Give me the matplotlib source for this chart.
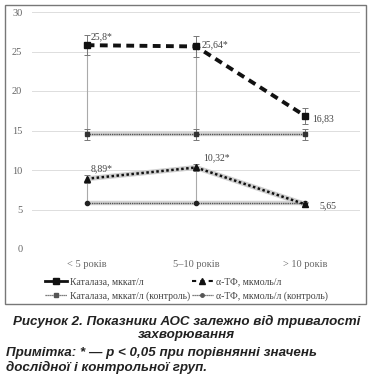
import matplotlib
matplotlib.use("Agg")
import matplotlib.pyplot as plt
from matplotlib.lines import Line2D
from matplotlib.patches import Rectangle

categories = ["< 5 років", "5\u201310 років", "> 10 років"]
catalase = [25.8, 25.64, 16.83]
catalase_err = [1.3, 1.3, 1.0]
catalase_ctrl = [14.5, 14.5, 14.5]
catalase_ctrl_err = [0.7, 0.7, 0.7]
atf = [8.89, 10.32, 5.65]
atf_err = [0.5, 0.5, 0.3]
atf_ctrl = [5.8, 5.8, 5.8]
labels_catalase = ["25,8*", "25,64*", "16,83"]
labels_atf = ["8,89*", "10,32*", "5,65"]
yticks = [0, 5, 10, 15, 20, 25, 30]

W, H = 373, 384
fig = plt.figure(figsize=(W / 100, H / 100), dpi=100)
ax = fig.add_axes([32 / W, 1 - 249 / H, 328 / W, 237 / H])

x = list(range(len(categories)))
serif = "Liberation Serif"
gray = "#666666"

# connector lines (grey verticals)
for i in x[:2]:
    ax.plot([i, i], [catalase_ctrl[i], catalase[i]], color="#aaaaaa", lw=0.8, zorder=1)
    ax.plot([i, i], [atf_ctrl[i], atf[i]], color="#aaaaaa", lw=0.8, zorder=1)

# soft shadows under the lines
ax.plot(x, catalase_ctrl, color="#d4d4d4", lw=3.2, zorder=2, solid_capstyle="butt")
ax.plot(x, atf_ctrl, color="#d4d4d4", lw=3.2, zorder=2, solid_capstyle="butt")
ax.plot(x, atf, color="#cfcfcf", lw=3.6, zorder=2, solid_capstyle="butt")

ax.errorbar(x, catalase_ctrl, yerr=catalase_ctrl_err, color="#555555", ls=(0, (1, 0.6)),
            lw=1.0, marker="s", ms=3.5, mfc="#333333", mec="#333333",
            ecolor="#777777", elinewidth=0.7, capsize=2.5, capthick=0.7, zorder=3)
ax.plot(x, atf_ctrl, color="#555555", ls=(0, (1, 0.6)), lw=1.0, marker="o", ms=3,
        mfc="#222222", mec="#222222", zorder=3)
ax.errorbar(x, atf, yerr=atf_err, color="#111111", ls=(0, (1, 1)), lw=1.8,
            marker="^", ms=4, mfc="#111111", mec="#111111",
            ecolor="#777777", elinewidth=0.7, capsize=2.5, capthick=0.7, zorder=4)
ax.errorbar(x, catalase, yerr=catalase_err, color="#111111", ls=(0, (2, 1.4)), lw=2.8,
            marker="s", ms=5, mfc="#111111", mec="#111111",
            ecolor="#777777", elinewidth=0.7, capsize=2.5, capthick=0.7, zorder=5)

# data labels
offs_c = [(3, 3), (4, 1), (5, -2)]
for i, (v, t) in enumerate(zip(catalase, labels_catalase)):
    ax.annotate(t, (i, v), xytext=offs_c[i], textcoords="offset points",
                fontsize=7, family=serif, color="#444444", va="bottom" if i == 0 else "center")
offs_a = [(3, 4), (5, 4), (10, -1)]
for i, (v, t) in enumerate(zip(atf, labels_atf)):
    ax.annotate(t, (i, v), xytext=offs_a[i], textcoords="offset points",
                fontsize=7, family=serif, color="#444444", va="bottom" if i < 2 else "center")

ax.set_xlim(-0.5, 2.5)
ax.set_ylim(0, 30)
ax.set_yticks(yticks)
ax.set_yticklabels([str(t) for t in yticks], family=serif, fontsize=7.5, color=gray)
ax.set_xticks(x)
ax.set_xticklabels(categories, family=serif, fontsize=7.5, color=gray)
ax.tick_params(length=0, pad=7)
ax.tick_params(axis="x", pad=8)
ax.grid(axis="y", color="#dddddd", lw=0.7)
ax.set_axisbelow(True)
for s in ax.spines.values():
    s.set_visible(False)

# outer box
fig.patches.append(Rectangle((5 / W, 1 - 304 / H), 361 / W, 299 / H, transform=fig.transFigure,
                             fill=False, ec="#777777", lw=1.0))

h_cat = Line2D([], [], color="#111111", ls="-", lw=2, marker="s", ms=4)
h_atf = Line2D([], [], color="#111111", ls=(0, (2, 2)), lw=1.5, marker="^", ms=4)
h_catc = Line2D([], [], color="#555555", ls=(0, (1, 0.6)), lw=0.9, marker="s", ms=3)
h_atfc = Line2D([], [], color="#555555", ls=(0, (1, 0.6)), lw=0.9, marker="o", ms=2.5)
# column-major order for a 2-column legend
handles = [h_cat, h_catc, h_atf, h_atfc]
leg_labels = ["Каталаза, мккат/л", "Каталаза, мккат/л (контроль)",
              "α-ТФ, мкмоль/л", "α-ТФ, мкмоль/л (контроль)"]
leg = fig.legend(handles, leg_labels, loc="center", bbox_to_anchor=(0.5, 1 - 289 / H),
                 ncol=2, frameon=False, handlelength=2.2, handletextpad=0.3,
                 columnspacing=0.2, labelspacing=0.55, prop={"family": serif, "size": 7})
for t in leg.get_texts():
    t.set_color("#444444")

cap = dict(family="Liberation Sans", fontweight="bold", style="italic", fontsize=9.6, color="#222222")
fig.text(0.5, 1 - 321 / H, "Рисунок 2. Показники АОС залежно від тривалості", ha="center", va="center", **cap)
fig.text(0.5, 1 - 335 / H, "захворювання", ha="center", va="center", **cap)
fig.text(6 / W, 1 - 353 / H, "Примітка: * — p < 0,05 при порівнянні значень", ha="left", va="center", **cap)
fig.text(6 / W, 1 - 367 / H, "дослідної і контрольної груп.", ha="left", va="center", **cap)

fig.savefig("out.png", dpi=100)
